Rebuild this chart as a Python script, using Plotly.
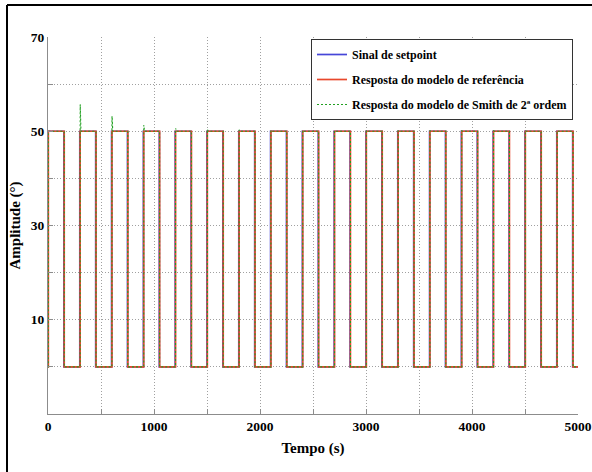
import plotly.graph_objects as go

# ---- data ----
t_end = 5000
setpoint_rise = [0, 300, 600, 900, 1200, 1500, 1800, 2100, 2400, 2700, 3000, 3300, 3600, 3900, 4200, 4500, 4800]
setpoint_fall = [150, 450, 750, 1050, 1350, 1650, 1950, 2250, 2550, 2850, 3150, 3450, 3750, 4050, 4350, 4650, 4950]
ref_rise = [3, 303, 603, 903, 1203, 1503, 1803, 2103, 2403, 2703, 3003, 3303, 3603, 3903, 4203, 4503, 4803]
ref_fall = [153, 453, 753, 1053, 1353, 1653, 1953, 2253, 2553, 2853, 3153, 3453, 3753, 4053, 4353, 4653, 4953]
smith_rise = [3, 303, 603, 903, 1203, 1503, 1803, 2103, 2403, 2703, 3003, 3303, 3603, 3903, 4203, 4503, 4803]
smith_fall = [153, 453, 753, 1053, 1353, 1653, 1953, 2253, 2553, 2853, 3153, 3453, 3753, 4053, 4353, 4653, 4953]
smith_peak = [50.0, 55.7, 53.2, 51.3, 50.6, 50.4, 50.3, 50.2, 50.2, 50.1, 50.1, 50.1, 50.1, 50.1, 50.1, 50.1, 50.1]
high_level = 50
low_level = 0

x_tickvals = [0, 500, 1000, 1500, 2000, 2500, 3000, 3500, 4000, 4500, 5000]
x_ticktext = ["0", "", "1000", "", "2000", "", "3000", "", "4000", "", "5000"]
y_tickvals = [-10, 0, 10, 20, 30, 40, 50, 60, 70]
y_ticktext = ["", "", "10", "", "30", "", "50", "", "70"]

names = ["Sinal de setpoint", "Resposta do modelo de referência", "Resposta do modelo de Smith de 2ª ordem"]


def step_series(rises, falls, peaks=None):
    xs, ys = [0], [low_level]
    for i, (r, f) in enumerate(zip(rises, falls)):
        xs += [r, r]
        ys += [low_level, high_level]
        if peaks is not None and peaks[i] > high_level:
            xs += [r + 1, r + 8]
            ys += [peaks[i], high_level]
        xs += [f, f]
        ys += [high_level, low_level]
    xs.append(t_end)
    ys.append(low_level)
    return xs, ys


sx, sy = step_series(setpoint_rise, setpoint_fall)
rx, ry = step_series(ref_rise, ref_fall)
gx, gy = step_series(smith_rise, smith_fall, smith_peak)

FONT = "Liberation Serif"
TICK = dict(family=FONT, size=13.5, color="black", weight="bold")
TITLE = dict(family=FONT, size=15, color="black", weight="bold")

fig = go.Figure()
fig.add_trace(go.Scatter(x=sx, y=sy, mode="lines", name=names[0], legendgroup="a",
                         line=dict(color="#4646d8", width=1.7)))
fig.add_trace(go.Scatter(x=rx, y=ry, mode="lines", name=names[1], legendgroup="b",
                         line=dict(color="#e8482c", width=1.7)))
fig.add_trace(go.Scatter(x=gx, y=gy, mode="lines", name=names[2], legendgroup="c",
                         line=dict(color="#22a022", width=1.1, dash="2px,2px")))

L, R, T, B = 48, 14, 37, 58
W, H = 592, 472
pw, ph = W - L - R, H - T - B


def px2paper(px, py):
    return (px - L) / pw, (H - B - py) / ph


x0, y0 = px2paper(7, 5)
x1, _ = px2paper(600, 5)
_, y1 = px2paper(7, 480)
lx, ly = px2paper(311, 39)

fig.update_layout(
    width=W, height=H,
    margin=dict(l=L, r=R, t=T, b=B, autoexpand=False),
    paper_bgcolor="white", plot_bgcolor="white",
    font=TICK,
    showlegend=True,
    legend=dict(x=lx, y=ly, xanchor="left", yanchor="top",
                bgcolor="white", bordercolor="#333333", borderwidth=1,
                font=dict(family=FONT, size=12, color="black", weight="bold"),
                itemwidth=30, tracegroupgap=6),
    shapes=[
        dict(type="line", xref="paper", yref="paper", x0=x0, y0=y0, x1=x1, y1=y0,
             line=dict(color="black", width=2)),
        dict(type="line", xref="paper", yref="paper", x0=x0, y0=y0, x1=x0, y1=y1,
             line=dict(color="black", width=2)),
    ],
)
fig.update_xaxes(range=[0, t_end], tickvals=x_tickvals, ticktext=x_ticktext,
                 showgrid=True, gridcolor="#a0a0a0", griddash="1px,2px", gridwidth=1,
                 showline=True, linecolor="#8c8c8c", linewidth=1.2, mirror=False,
                 ticks="inside", ticklen=5, tickcolor="#8c8c8c", zeroline=False,
                 tickfont=TICK, automargin=False,
                 title=dict(text="Tempo (s)", standoff=9, font=TITLE))
fig.update_yaxes(range=[-10, 70], tickvals=y_tickvals, ticktext=y_ticktext,
                 showgrid=True, gridcolor="#a0a0a0", griddash="1px,2px", gridwidth=1,
                 showline=True, linecolor="#8c8c8c", linewidth=1.2, mirror=False,
                 ticks="inside", ticklen=5, tickcolor="#8c8c8c", zeroline=False,
                 tickfont=TICK, automargin=False,
                 title=dict(text="Amplitude (°)", standoff=6, font=TITLE))

fig.write_html("out.html")
